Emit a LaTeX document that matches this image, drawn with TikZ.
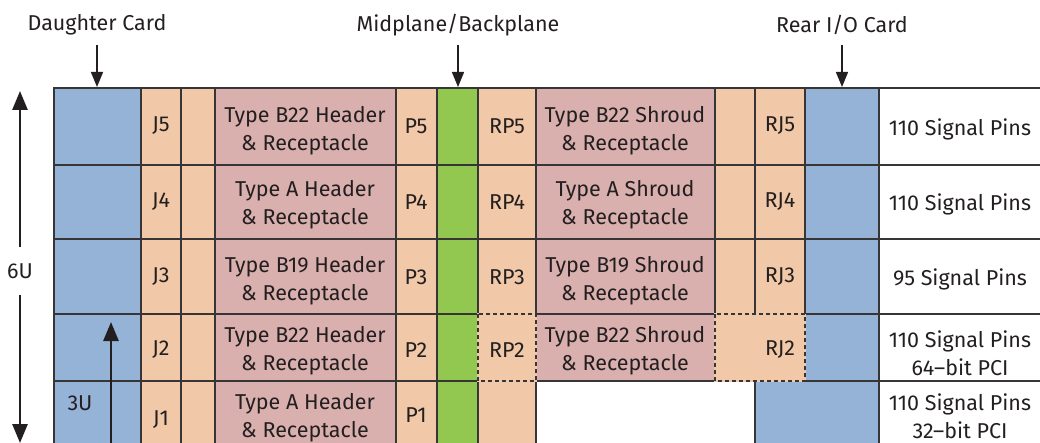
\documentclass[tikz,border=0pt]{standalone}
\usepackage{fontspec}
\setmainfont{Fira Sans}
\usetikzlibrary{arrows.meta}
\definecolor{cardblue}{RGB}{149,179,215}
\definecolor{conorange}{RGB}{241,201,168}
\definecolor{conpink}{RGB}{218,176,175}
\definecolor{planegreen}{RGB}{146,200,80}
\definecolor{rule}{RGB}{55,53,53}
\definecolor{ink}{RGB}{35,31,32}
\begin{document}
\begin{tikzpicture}[x=1pt,y=-1pt,
    cell/.style={draw=rule,line width=1.2pt},
    card/.style={cell,fill=cardblue},
    conn/.style={cell,fill=conorange},
    shell/.style={cell,fill=conpink},
    plane/.style={cell,fill=planegreen},
    dashcell/.style={fill=conorange,preaction={draw=conorange,line width=1.5pt},
        draw=rule,line width=1.2pt,dash pattern=on 4pt off 3pt},
    txt/.style={text=ink,font=\fontsize{21.5}{28}\selectfont,align=center,inner sep=0pt},
    pointer/.style={draw=ink,line width=1.4pt,-{Triangle[length=15pt,width=12pt]}},
    span/.style={draw=ink,line width=2.7pt,-{Triangle[length=19pt,width=15pt]}}]
\useasboundingbox (0,0) rectangle (1040,443);
\begin{scope}
\clip (0,0) rectangle (1040,443);
% row 5
\filldraw[card] (54,88) rectangle (141,165);
\filldraw[conn] (141,88) rectangle (181,165);
\filldraw[conn] (181,88) rectangle (215,165);
\filldraw[shell] (215,88) rectangle (396,165);
\filldraw[conn] (396,88) rectangle (437,165);
\filldraw[plane] (437,88) rectangle (478,165);
\filldraw[conn] (478,88) rectangle (536,165);
\filldraw[shell] (536,88) rectangle (715,165);
\filldraw[conn] (715,88) rectangle (755,165);
\filldraw[conn] (755,88) rectangle (805,165);
\filldraw[card] (805,88) rectangle (879,165);
\draw[cell] (879,88) rectangle (1045,165);
% row 4
\filldraw[card] (54,165) rectangle (141,239);
\filldraw[conn] (141,165) rectangle (181,239);
\filldraw[conn] (181,165) rectangle (215,239);
\filldraw[shell] (215,165) rectangle (396,239);
\filldraw[conn] (396,165) rectangle (437,239);
\filldraw[plane] (437,165) rectangle (478,239);
\filldraw[conn] (478,165) rectangle (536,239);
\filldraw[shell] (536,165) rectangle (715,239);
\filldraw[conn] (715,165) rectangle (755,239);
\filldraw[conn] (755,165) rectangle (805,239);
\filldraw[card] (805,165) rectangle (879,239);
\draw[cell] (879,165) rectangle (1045,239);
% row 3
\filldraw[card] (54,239) rectangle (141,314);
\filldraw[conn] (141,239) rectangle (181,314);
\filldraw[conn] (181,239) rectangle (215,314);
\filldraw[shell] (215,239) rectangle (396,314);
\filldraw[conn] (396,239) rectangle (437,314);
\filldraw[plane] (437,239) rectangle (478,314);
\filldraw[conn] (478,239) rectangle (536,314);
\filldraw[shell] (536,239) rectangle (715,314);
\filldraw[conn] (715,239) rectangle (755,314);
\filldraw[conn] (755,239) rectangle (805,314);
\filldraw[card] (805,239) rectangle (879,314);
\draw[cell] (879,239) rectangle (1045,314);
% row 2
\filldraw[card] (54,314) rectangle (141,381);
\filldraw[conn] (141,314) rectangle (181,381);
\filldraw[conn] (181,314) rectangle (215,381);
\filldraw[shell] (215,314) rectangle (396,381);
\filldraw[conn] (396,314) rectangle (437,381);
\filldraw[plane] (437,314) rectangle (478,381);
\filldraw[shell] (536,314) rectangle (715,381);
\filldraw[card] (805,314) rectangle (879,381);
\draw[cell] (879,314) rectangle (1045,381);
% row 1
\filldraw[card] (54,381) rectangle (141,460);
\filldraw[conn] (141,381) rectangle (181,460);
\filldraw[conn] (181,381) rectangle (215,460);
\filldraw[shell] (215,381) rectangle (396,460);
\filldraw[conn] (396,381) rectangle (437,460);
\filldraw[plane] (437,381) rectangle (478,460);
\filldraw[conn] (478,381) rectangle (536,460);
\filldraw[card] (755,381) rectangle (879,460);
\draw[cell] (879,381) rectangle (1045,460);
% optional rear connectors, dashed
\filldraw[dashcell] (478,314) rectangle (536,381);
\filldraw[dashcell] (715,314) rectangle (805,381);
\end{scope}
% connector labels
\node[txt] (j5) at (161,126) {J5};
\node[txt] (j4) at (161,202) {J4};
\node[txt] (j3) at (161,277) {J3};
\node[txt] (j2) at (161,350) {J2};
\node[txt] (j1) at (161,420) {J1};
\node[txt] (hdr5) at (305,131) {Type B22 Header\\\& Receptacle};
\node[txt] (hdr4) at (305,205) {Type A Header\\\& Receptacle};
\node[txt] (hdr3) at (305,281) {Type B19 Header\\\& Receptacle};
\node[txt] (hdr2) at (305,351) {Type B22 Header\\\& Receptacle};
\node[txt] (hdr1) at (305,418) {Type A Header\\\& Receptacle};
\node[txt] (p5) at (416,126) {P5};
\node[txt] (p4) at (416,202) {P4};
\node[txt] (p3) at (416,277) {P3};
\node[txt] (p2) at (416,350) {P2};
\node[txt] (p1) at (416,415) {P1};
\node[txt] (rp5) at (507,126) {RP5};
\node[txt] (rp4) at (507,202) {RP4};
\node[txt] (rp3) at (507,277) {RP3};
\node[txt] (rp2) at (507,350) {RP2};
\node[txt] (shr5) at (625,131) {Type B22 Shroud\\\& Receptacle};
\node[txt] (shr4) at (625,205) {Type A Shroud\\\& Receptacle};
\node[txt] (shr3) at (625,281) {Type B19 Shroud\\\& Receptacle};
\node[txt] (shr2) at (625,351) {Type B22 Shroud\\\& Receptacle};
\node[txt] (rj5) at (780,126) {RJ5};
\node[txt] (rj4) at (780,202) {RJ4};
\node[txt] (rj3) at (780,277) {RJ3};
\node[txt] (rj2) at (780,350) {RJ2};
\node[txt] (pins5) at (960,129) {110 Signal Pins};
\node[txt] (pins4) at (960,204) {110 Signal Pins};
\node[txt] (pins3) at (960,279) {95 Signal Pins};
\node[txt] (pins2) at (960,353) {110 Signal Pins\\64--bit PCI};
\node[txt] (pins1) at (960,416) {110 Signal Pins\\32--bit PCI};
% card labels
\node[txt] (dcard) at (97,25) {Daughter Card};
\node[txt] (mplane) at (458,25) {Midplane/Backplane};
\node[txt] (rcard) at (842,25) {Rear I/O Card};
\coordinate (dtop) at (97,87);
\coordinate (mtop) at (458,87);
\coordinate (rtop) at (842,87);
\draw[pointer] (97,45) -- (dtop);
\draw[pointer] (458,45) -- (mtop);
\draw[pointer] (842,45) -- (rtop);
% height marks
\node[txt] (six) at (20,271) {6U};
\coordinate (sixtop) at (20,91);
\coordinate (sixbot) at (20,443);
\draw[span] (six.north) ++(0,-16) -- (sixtop);
\draw[span] (six.south) ++(0,16) -- (sixbot);
\node[txt] (three) at (80,403) {3U};
\coordinate (threetop) at (111,322);
\coordinate (threebot) at (111,445);
\draw[span] (threebot) -- (threetop);
\end{tikzpicture}
\end{document}
